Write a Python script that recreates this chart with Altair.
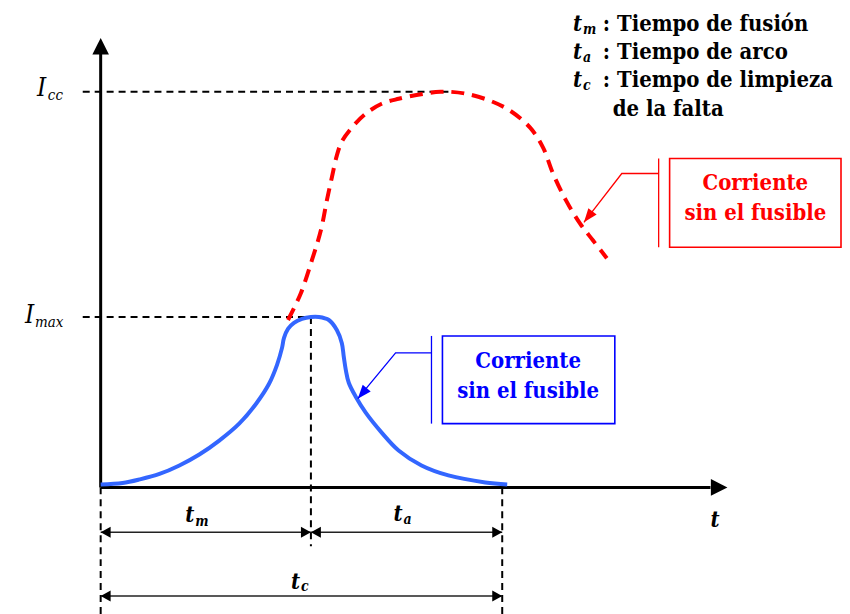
import altair as alt
import pandas as pd

# ---------------- data (time t, current I, in drawing units) ----
blue_t = [0, 22, 39, 59, 79, 99, 119, 139, 156, 169, 177, 182, 184, 188, 194, 202, 211,
          219, 229, 237, 242, 244, 246, 249, 256, 266, 282, 299, 322, 349, 386, 408]
blue_i = [2, 3.5, 7, 12.5, 21, 32, 46, 63, 83, 103, 122, 139, 149, 158, 164, 168, 170,
          170, 167, 157, 144, 130, 117, 104, 90, 74, 54, 36, 21, 11, 4, 2]

red_t = [188, 195, 201, 212, 221, 227, 232, 237, 242, 252, 266, 282, 299, 324, 341, 351,
         367, 391, 411, 431, 444, 454, 467, 481, 494, 508]
red_i = [167, 181, 194, 227, 257, 287, 310, 332, 346, 360, 374, 384, 389, 394, 396, 396,
         394, 387, 377, 360, 340, 314, 287, 264, 247, 229]

T_M = 211      # fin del tiempo de fusión
T_C = 403      # tiempo de limpieza de la falta
I_MAX = 170
I_CC = 396

legend_sub = ["m", "a", "c"]
legend_txt = [": Tiempo de fusión", ": Tiempo de arco", ": Tiempo de limpieza"]
legend_extra = "de la falta"
box_lines = ["Corriente", "sin el fusible"]

# ---------------- scales -------------------------------------------------------------
xs = alt.Scale(domain=[-93, 741], nice=False, zero=False)
ys = alt.Scale(domain=[-119, 479], nice=False, zero=False)
SERIF = "DejaVu Serif Condensed, DejaVu Serif"


def X(f="t"):
    return alt.X(f, type="quantitative", scale=xs, axis=None)


def Y(f="i"):
    return alt.Y(f, type="quantitative", scale=ys, axis=None)


def rules(df, **kw):
    return alt.Chart(df).mark_rule(**kw).encode(x=X("t0"), x2="t1", y=Y("i0"), y2="i1")


def texts(df, **kw):
    base = dict(align="left", baseline="alphabetic", font=SERIF)
    base.update(kw)
    return alt.Chart(df).mark_text(**base).encode(x=X(), y=Y(), text="label:N")


def points(df, shape, size, color, angle=0):
    return alt.Chart(df).mark_point(shape=shape, size=size, filled=True, color=color,
                                    opacity=1, strokeWidth=0, angle=angle).encode(x=X(), y=Y())


# guide (dashed) lines
guides = pd.DataFrame({
    "t0": [-18, -18, T_M, 0, T_C],
    "i0": [I_CC, I_MAX, I_MAX, -1, -1],
    "t1": [351, T_M, T_M, 0, T_C],
    "i1": [I_CC, I_MAX, -60, -140, -140],
})
guide_layer = rules(guides, color="black", strokeWidth=2, strokeDash=[7, 5])

# axes
axes = pd.DataFrame({"t0": [0, 0], "i0": [-1, -1], "t1": [0, 612], "i1": [434, -1]})
axis_layer = rules(axes, color="black", strokeWidth=3)
y_arrow = points(pd.DataFrame({"t": [0], "i": [450]}), "M0,0L1,2L-1,2Z", 276, "black")
x_arrow = points(pd.DataFrame({"t": [629], "i": [-1]}), "M0,0L-2,-1L-2,1Z", 276, "black")

# dimension arrows
dims = pd.DataFrame({"t0": [0, T_M, 0], "t1": [T_M, T_C, T_C],
                     "i0": [-46, -46, -110], "i1": [-46, -46, -110]})
dim_layer = rules(dims, color="#222222", strokeWidth=1.4)
left_tips = points(pd.DataFrame({"t": [0, T_M, 0], "i": [-46, -46, -110]}),
                   "M0,0L2,-1.1L2,1.1Z", 100, "black")
right_tips = points(pd.DataFrame({"t": [T_M, T_C, T_C], "i": [-46, -46, -110]}),
                    "M0,0L-2,-1.1L-2,1.1Z", 100, "black")

# curves
blue_df = pd.DataFrame({"t": blue_t, "i": blue_i})
red_df = pd.DataFrame({"t": red_t, "i": red_i})
blue_line = alt.Chart(blue_df).mark_line(color="#3366FF", strokeWidth=4,
                                         interpolate="catmull-rom").encode(x=X(), y=Y())
red_line = alt.Chart(red_df).mark_line(color="#FF0000", strokeWidth=4, strokeDash=[13, 8],
                                       interpolate="catmull-rom").encode(x=X(), y=Y())

# annotations
def annotation(color, tip, elbow, bar_t, box, text_t, base_i, angle):
    lead = pd.DataFrame({"t": [tip[0], elbow[0], bar_t], "i": [tip[1], elbow[1], elbow[1]],
                         "o": [0, 1, 2]})
    lead_l = alt.Chart(lead).mark_line(color=color, strokeWidth=1.3).encode(
        x=X(), y=Y(), order="o:Q")
    bar = rules(pd.DataFrame({"t0": [bar_t], "t1": [bar_t], "i0": [box[2]], "i1": [box[3]]}),
                color=color, strokeWidth=1.3)
    rect = alt.Chart(pd.DataFrame({"t0": [box[0]], "t1": [box[1]], "i0": [box[2]],
                                   "i1": [box[3]]})).mark_rect(
        fillOpacity=0, stroke=color, strokeWidth=1.6).encode(
        x=X("t0"), x2="t1", y=Y("i0"), y2="i1")
    head = points(pd.DataFrame({"t": [tip[0]], "i": [tip[1]]}), "M0,0L0.75,2L-0.75,2Z",
                  196, color, angle)
    txt = texts(pd.DataFrame({"t": [text_t, text_t], "i": base_i, "label": box_lines}),
                align="center", fontSize=22, fontWeight="bold", color=color)
    return [lead_l, bar, rect, head, txt]


red_ann = annotation("#FF0000", (485, 265), (523, 314), 560, (571, 743, 329, 240), 657,
                     [297, 267], 218)
blue_ann = annotation("#0000FF", (258, 88), (296, 134), 332, (343, 516, 151, 63), 429,
                      [119, 89], 220)

# labels
I_main = texts(pd.DataFrame({"t": [-64, -76], "i": [392, 164], "label": ["I", "I"]}),
               fontSize=26, fontStyle="italic", color="black")
I_sub = texts(pd.DataFrame({"t": [-53, -66], "i": [388, 160], "label": ["cc", "max"]}),
              fontSize=15, fontStyle="italic", color="black")
t_main = texts(pd.DataFrame({"t": [85, 294, 191, 612], "i": [-36, -35, -103, -41],
                             "label": ["t", "t", "t", "t"]}),
               fontSize=22, fontStyle="italic", fontWeight="bold", color="black")
t_sub = texts(pd.DataFrame({"t": [95, 304, 201], "i": [-40, -38, -105],
                            "label": ["m", "a", "c"]}),
              fontSize=14, fontStyle="italic", fontWeight="bold", color="black")

leg_i = [457, 429, 401]
leg_t = texts(pd.DataFrame({"t": [474] * 3, "i": leg_i, "label": ["t"] * 3}),
              fontSize=22, fontStyle="italic", fontWeight="bold", color="black")
leg_s = texts(pd.DataFrame({"t": [484] * 3, "i": [v - 3 for v in leg_i], "label": legend_sub}),
              fontSize=14, fontStyle="italic", fontWeight="bold", color="black")
leg_x = texts(pd.DataFrame({"t": [504] * 3 + [514], "i": leg_i + [372],
                            "label": legend_txt + [legend_extra]}),
              fontSize=22, fontWeight="bold", color="black")

layers = [guide_layer, dim_layer, axis_layer, y_arrow, x_arrow, left_tips, right_tips,
          blue_line, red_line] + red_ann + blue_ann + [I_main, I_sub, t_main, t_sub,
                                                        leg_t, leg_s, leg_x]

chart = alt.layer(*layers).properties(width=834, height=598, padding=0).configure_view(
    stroke=None)

chart.save("out.html", embed_options={"renderer": "svg", "actions": False})
